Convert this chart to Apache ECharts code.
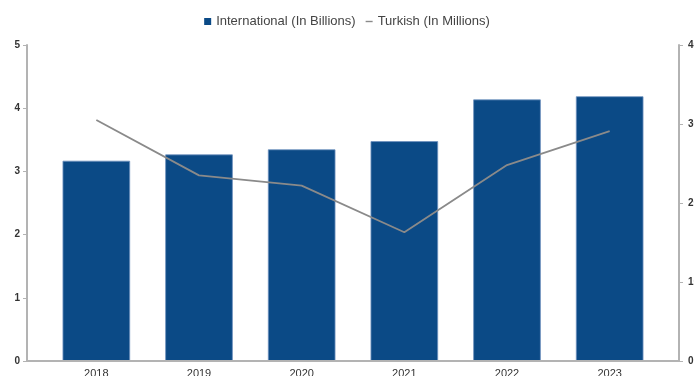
<!DOCTYPE html>
<html>
<head>
<meta charset="utf-8">
<script src="https://cdn.jsdelivr.net/npm/echarts@6/dist/echarts.min.js"></script>
<style>
  html, body { margin: 0; padding: 0; background: #ffffff; }
  #chart { width: 694px; height: 376px; }
</style>
</head>
<body>
<div id="chart"></div>
<script>
// Passenger figures by year
const years = ['2018', '2019', '2020', '2021', '2022', '2023'];
const international = [3.17, 3.27, 3.35, 3.48, 4.14, 4.19];   // billions
const turkish = [30.5, 23.5, 22.2, 16.3, 24.8, 29.1];          // millions
const leftTicks = [0, 5, 1];    // min, max, step
const rightTicks = [0, 40, 10]; // min, max, step

const barName = 'International (In Billions)';
const lineName = 'Turkish (In Millions)';

const axisGray = '#b3b3b3';
const labelStyle = { color: '#333', fontSize: 10, fontFamily: 'Liberation Sans, Arial, sans-serif', fontWeight: 'bold' };

const chart = echarts.init(document.getElementById('chart'), null, { renderer: 'canvas' });

chart.setOption({
  animation: false,
  backgroundColor: '#ffffff',
  legend: {
    top: 10,
    left: 'center',
    itemGap: 10,
    itemWidth: 7,
    itemHeight: 7,
    textStyle: { color: '#444', fontSize: 13, fontFamily: 'Liberation Sans, Arial, sans-serif' },
    data: [
      { name: barName, icon: 'rect', itemStyle: { color: '#0b4a86', borderWidth: 0 } },
      { name: lineName, icon: 'path://M0,0H10V2H0Z', itemStyle: { color: '#8a8a8a', borderWidth: 0 } }
    ]
  },
  grid: [
    // frame grid: carries the visible axes
    { left: 27, right: 15, top: 45, bottom: 15, containLabel: false, outerBoundsMode: 'none' },
    // plotting grid: carries the bars and the line
    { left: 45, right: 33, top: 45, bottom: 15, containLabel: false, outerBoundsMode: 'none' }
  ],
  xAxis: [
    {
      gridIndex: 0, type: 'value', min: 0, max: 1,
      axisLine: { show: true, lineStyle: { color: axisGray, width: 2 } },
      axisTick: { show: false }, axisLabel: { show: false }, splitLine: { show: false },
      z: 5
    },
    {
      gridIndex: 1, type: 'category', data: years, boundaryGap: true,
      axisLine: { show: false }, axisTick: { show: false },
      axisLabel: { color: '#333', fontSize: 11, margin: 7, fontFamily: 'Liberation Sans, Arial, sans-serif' }
    }
  ],
  yAxis: [
    {
      gridIndex: 0, type: 'value', position: 'left',
      min: leftTicks[0], max: leftTicks[1], interval: leftTicks[2],
      axisLine: { show: true, lineStyle: { color: axisGray, width: 2 } },
      axisTick: { show: true, length: 4, lineStyle: { color: axisGray, width: 1 } },
      axisLabel: Object.assign({ margin: 7 }, labelStyle),
      splitLine: { show: false }
    },
    {
      gridIndex: 0, type: 'value', position: 'right',
      min: rightTicks[0], max: rightTicks[1], interval: rightTicks[2],
      axisLine: { show: true, lineStyle: { color: axisGray, width: 2 } },
      axisTick: { show: true, length: 4, lineStyle: { color: axisGray, width: 1 } },
      axisLabel: Object.assign({ margin: 9 }, labelStyle),
      splitLine: { show: false }
    },
    {
      gridIndex: 1, type: 'value', show: false,
      min: leftTicks[0], max: leftTicks[1]
    },
    {
      gridIndex: 1, type: 'value', show: false,
      min: rightTicks[0], max: rightTicks[1]
    }
  ],
  series: [
    {
      name: barName, type: 'bar', xAxisIndex: 1, yAxisIndex: 2,
      data: international, barWidth: '66%',
      itemStyle: { color: '#0b4a86', borderColor: 'rgba(110,145,190,0.8)', borderWidth: 1 },
      z: 2
    },
    {
      name: lineName, type: 'line', xAxisIndex: 1, yAxisIndex: 3,
      data: turkish, showSymbol: false, symbol: 'none',
      lineStyle: { color: '#8a8a8a', width: 1.8 },
      itemStyle: { color: '#8a8a8a' },
      z: 3
    }
  ]
});
</script>
</body>
</html>
